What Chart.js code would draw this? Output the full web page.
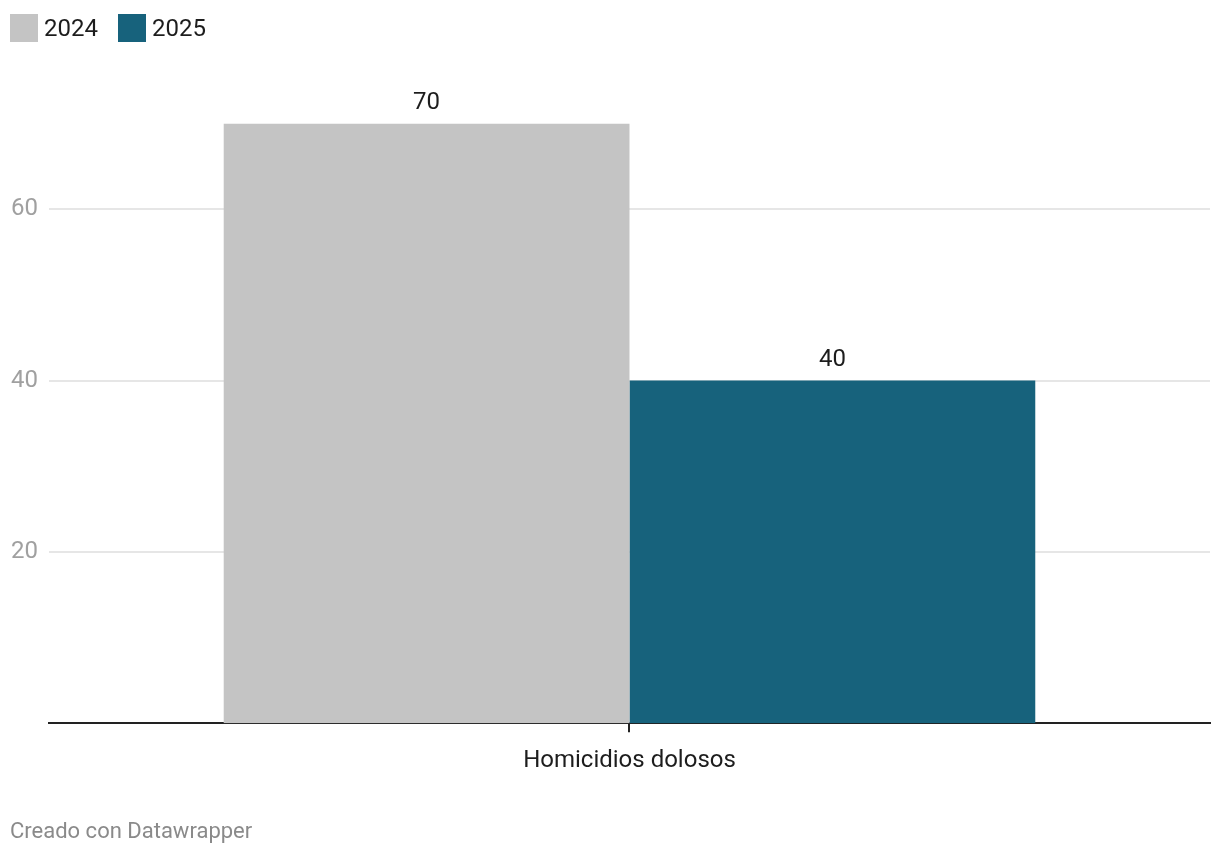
<!DOCTYPE html>
<html>
<head>
<meta charset="utf-8">
<script src="https://cdn.jsdelivr.net/npm/chart.js@4.4.1/dist/chart.umd.min.js"></script>
<style>
    body { margin: 0; background: #fff; font-family: Roboto, sans-serif; }
    #wrap { position: relative; width: 1220px; height: 854px; }
    #chart { position: absolute; left: 0; top: 0; }
    #legend { position: absolute; left: 10px; top: 14px; display: flex; align-items: center; }
    .item { display: flex; align-items: center; margin-right: 20px; font-size: 24px; color: #1d1d1d; }
    .swatch { width: 28px; height: 28px; margin-right: 6px; }
    #footer { position: absolute; left: 10px; top: 818px; font-size: 22px; color: #8a8a8a; }
</style>
</head>
<body>
<div id="wrap">
    <canvas id="chart" width="1220" height="854"></canvas>
    <div id="legend"></div>
    <div id="footer">Creado con Datawrapper</div>
</div>
<script>
// data
const categories = ['Homicidios dolosos'];
const seriesNames = ['2024', '2025'];
const values2024 = [70];
const values2025 = [40];
const yTicks = [20, 40, 60];
const colors = ['#c4c4c4', '#17627c'];

// html legend
let legend = document.getElementById('legend');
seriesNames.forEach((name, i) => {
    let item = document.createElement('div');
    item.classList.add('item');
    item.innerHTML = `<span class="swatch" style="background:${colors[i]}"></span>${name}`;
    legend.appendChild(item);
});

/** draws the number above each bar */
const valueLabels = {
    id: 'valueLabels',
    afterDatasetsDraw(chart) {
        const ctx = chart.ctx;
        ctx.save();
        ctx.font = '24px Roboto';
        ctx.fillStyle = '#1d1d1d';
        ctx.textAlign = 'center';
        ctx.textBaseline = 'alphabetic';
        chart.data.datasets.forEach((ds, i) => {
            chart.getDatasetMeta(i).data.forEach((bar, j) => {
                ctx.fillText(ds.data[j], bar.x, bar.y - 15);
            });
        });
        ctx.restore();
    }
};

const ctx = document.getElementById('chart').getContext('2d');
const chart = new Chart(ctx, {
    type: 'bar',
    data: {
        labels: categories,
        datasets: [
            {label: seriesNames[0], data: values2024, backgroundColor: colors[0]},
            {label: seriesNames[1], data: values2025, backgroundColor: colors[1]}
        ]
    },
    options: {
        responsive: false,
        animation: false,
        categoryPercentage: 0.699,
        barPercentage: 1.0,
        layout: {
            padding: {top: 38, left: 0, right: 10, bottom: 65}
        },
        plugins: {
            legend: {display: false},
            tooltip: {enabled: false}
        },
        scales: {
            x: {
                grid: {
                    offset: false,
                    drawOnChartArea: false,
                    drawTicks: true,
                    tickLength: 9,
                    color: '#222',
                    lineWidth: 2
                },
                border: {display: true, color: '#222', width: 2},
                ticks: {
                    color: '#1d1d1d',
                    font: {family: 'Roboto', size: 24},
                    padding: 14
                }
            },
            y: {
                min: 0,
                max: 80,
                afterBuildTicks: (scale) => {
                    scale.ticks = yTicks.map(v => ({value: v}));
                },
                grid: {
                    color: '#e6e6e6',
                    lineWidth: 2,
                    drawTicks: false
                },
                border: {display: false},
                ticks: {
                    color: '#a0a0a0',
                    font: {family: 'Roboto', size: 24},
                    padding: 11
                }
            }
        }
    },
    plugins: [valueLabels]
});
</script>
</body>
</html>
